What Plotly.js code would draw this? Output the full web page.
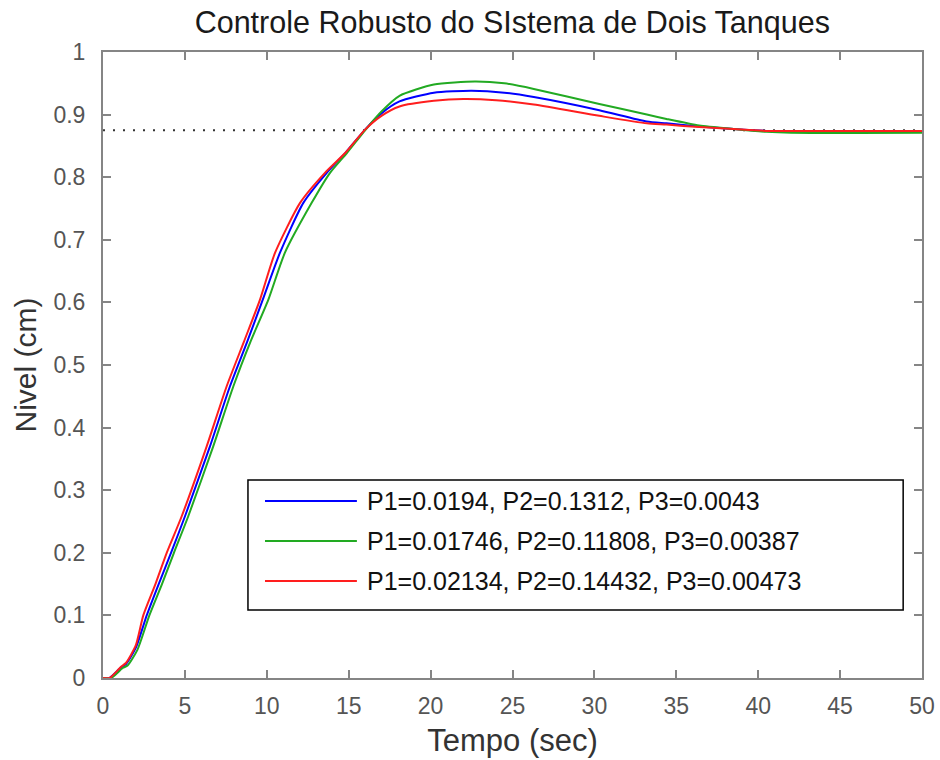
<!DOCTYPE html>
<html>
<head>
<meta charset="utf-8">
<script src="https://cdn.plot.ly/plotly-3.0.1.min.js"></script>
<style>
  html, body { margin: 0; padding: 0; background: #ffffff; }
  #chart { width: 940px; height: 760px; }
</style>
</head>
<body>
<div id="chart"></div>
<script>
// Step responses of the two-tank level loop under three parameter sets
const seriesNames = [
  "P1=0.0194, P2=0.1312, P3=0.0043",
  "P1=0.01746, P2=0.11808, P3=0.00387",
  "P1=0.02134, P2=0.14432, P3=0.00473"
];

const tBlue = [0, 0.4, 1.1, 1.4, 2.0, 2.67, 3.4, 4.17, 5.0, 6.53, 7.75, 8.8, 9.75, 10.8, 12.23, 13.66, 14.8, 16.0, 17.0, 18.1, 20.2, 22.5, 24.5, 26.3, 30.3, 33.2, 34.4, 36.4, 38.5, 40.5, 45, 50];
const yBlue = [0, 0, 0.017, 0.022, 0.048, 0.1, 0.15, 0.201, 0.258, 0.37, 0.466, 0.537, 0.604, 0.679, 0.759, 0.807, 0.839, 0.876, 0.902, 0.921, 0.935, 0.938, 0.935, 0.928, 0.907, 0.889, 0.886, 0.881, 0.877, 0.874, 0.873, 0.873];

const tGreen = [0, 0.5, 1.2, 1.5, 2.1, 2.83, 3.6, 4.33, 5.2, 6.73, 7.96, 9.0, 10.09, 11.1, 12.74, 13.86, 14.9, 16.0, 17.0, 18.1, 20.2, 22.7, 24.5, 26.3, 30.3, 33.2, 34.4, 36.4, 38.5, 40.5, 42, 50];
const yGreen = [0, 0, 0.016, 0.02, 0.045, 0.1, 0.15, 0.2, 0.258, 0.37, 0.466, 0.537, 0.604, 0.679, 0.759, 0.807, 0.839, 0.875, 0.905, 0.93, 0.948, 0.953, 0.95, 0.941, 0.917, 0.9, 0.893, 0.8825, 0.877, 0.8725, 0.871, 0.871];

const tRed = [0, 0.4, 1.1, 1.4, 2.0, 2.46, 3.2, 3.89, 4.8, 6.33, 7.55, 8.6, 9.58, 10.5, 12.03, 13.55, 14.8, 16.0, 17.0, 18.1, 20.2, 22.0, 24.0, 26.3, 30.3, 33.2, 34.4, 36.4, 38.5, 40.5, 45, 50];
const yRed = [0, 0, 0.018, 0.024, 0.052, 0.1, 0.15, 0.2, 0.258, 0.37, 0.466, 0.537, 0.604, 0.679, 0.759, 0.807, 0.839, 0.876, 0.898, 0.913, 0.922, 0.925, 0.923, 0.916, 0.898, 0.886, 0.884, 0.88, 0.877, 0.874, 0.874, 0.874];

// steady-state reference level
const tSteady = [0, 50];
const ySteady = [0.875, 0.875];

const xTicks = [0, 5, 10, 15, 20, 25, 30, 35, 40, 45, 50];
const yTicks = [0, 0.1, 0.2, 0.3, 0.4, 0.5, 0.6, 0.7, 0.8, 0.9, 1];
const yTickText = ["0", "0.1", "0.2", "0.3", "0.4", "0.5", "0.6", "0.7", "0.8", "0.9", "1"];

const colors = ["#0000ff", "#22aa22", "#ff1e1e"];
const FONT = "Liberation Sans, Arial, sans-serif";

const curve = (x, y, name, color) => ({
  x: x, y: y, mode: "lines", name: name,
  line: { color: color, width: 2, shape: "spline", smoothing: 0.6 }
});

const traces = [
  { x: tSteady, y: ySteady, mode: "lines", line: { color: "#333333", width: 2, dash: "2px,8px" }, hoverinfo: "skip" },
  curve(tBlue, yBlue, seriesNames[0], colors[0]),
  curve(tGreen, yGreen, seriesNames[1], colors[1]),
  curve(tRed, yRed, seriesNames[2], colors[2])
];

// boxed legend inside the axes
const legBox = { x0: 0.177, x1: 0.977, y0: 0.1086, y1: 0.3163 };
const legRows = [0.2827, 0.2188, 0.1550];
const legLine = { x0: 0.1978, x1: 0.310 };
const legTextX = 0.320;

const shapes = [
  { type: "rect", xref: "paper", yref: "paper", x0: legBox.x0, x1: legBox.x1, y0: legBox.y0, y1: legBox.y1,
    line: { color: "#000000", width: 1.5 }, fillcolor: "#ffffff", layer: "above" }
];
const annotations = [];
seriesNames.forEach((name, i) => {
  shapes.push({ type: "line", xref: "paper", yref: "paper", x0: legLine.x0, x1: legLine.x1, y0: legRows[i], y1: legRows[i],
    line: { color: colors[i], width: 2 }, layer: "above" });
  annotations.push({ xref: "paper", yref: "paper", x: legTextX, y: legRows[i], xanchor: "left", yanchor: "middle",
    text: name, showarrow: false, font: { family: FONT, size: 25, color: "#111111" } });
});

const axisCommon = {
  showline: true, linecolor: "#858585", linewidth: 2, mirror: "ticks",
  ticks: "inside", ticklen: 8, tickwidth: 2, tickcolor: "#858585",
  showgrid: false, zeroline: false,
  tickfont: { family: FONT, size: 23, color: "#555555" }
};

const layout = {
  width: 940, height: 760,
  margin: { l: 103, r: 18, t: 52, b: 82, pad: 0 },
  paper_bgcolor: "#ffffff", plot_bgcolor: "#ffffff",
  showlegend: false,
  title: { text: "Controle Robusto do SIstema de Dois Tanques", x: 0.545, xanchor: "center", y: 0.97, yanchor: "middle",
    font: { family: FONT, size: 30.5, color: "#1a1a1a" } },
  xaxis: Object.assign({}, axisCommon, {
    range: [0, 50], tickvals: xTicks, ticklabelstandoff: 6,
    title: { text: "Tempo (sec)", font: { family: FONT, size: 31, color: "#333333" }, standoff: 12 }
  }),
  yaxis: Object.assign({}, axisCommon, {
    range: [0, 1], tickvals: yTicks, ticktext: yTickText, ticklabelstandoff: 11,
    title: { text: "Nivel (cm)", font: { family: FONT, size: 30, color: "#333333" }, standoff: 8 }
  }),
  shapes: shapes,
  annotations: annotations
};

Plotly.newPlot("chart", traces, layout, { staticPlot: true, displayModeBar: false });
</script>
</body>
</html>
